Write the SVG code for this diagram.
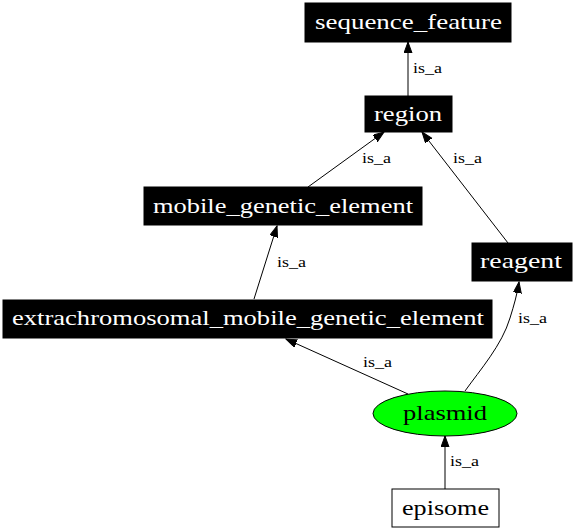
<svg xmlns="http://www.w3.org/2000/svg" width="576" height="531" viewBox="0 0 576 531">
<style>
.bg{fill:#ffffff}
.nb rect{fill:#000000;stroke:#000000;stroke-width:1}
.nt{font-family:'Liberation Serif','Times New Roman',Times,serif;font-size:22px;text-anchor:middle}
.w{fill:#ffffff}
.k{fill:#000000}
.e{fill:none;stroke:#000000;stroke-width:1;marker-end:url(#ah)}
.el{font-family:'Liberation Serif','Times New Roman',Times,serif;font-size:15px;fill:#000000}
</style>
<defs>
<marker id="ah" markerUnits="userSpaceOnUse" markerWidth="12" markerHeight="10" refX="11" refY="4" orient="auto">
<path d="M0,0 L11,4 L0,8 z" fill="#000000" stroke="#000000" stroke-width="1"/>
</marker>
</defs>
<rect class="bg" x="0" y="0" width="576" height="531"/>
<g id="connectors">
<path class="e" d="M408,96 L408,42"/>
<text class="el" x="413" y="73" textLength="29" lengthAdjust="spacingAndGlyphs">is_a</text>
<path class="e" d="M308,187 L384,132"/>
<text class="el" x="362" y="163" textLength="29" lengthAdjust="spacingAndGlyphs">is_a</text>
<path class="e" d="M508,243 L422,132"/>
<text class="el" x="453" y="163" textLength="29" lengthAdjust="spacingAndGlyphs">is_a</text>
<path class="e" d="M254,299 L277,226"/>
<text class="el" x="277" y="267" textLength="29" lengthAdjust="spacingAndGlyphs">is_a</text>
<path class="e" d="M408,394 L286,339"/>
<text class="el" x="363" y="367" textLength="29" lengthAdjust="spacingAndGlyphs">is_a</text>
<path class="e" d="M465,391 C480,370 502,345 510,318 C514,305 517,295 519,282"/>
<text class="el" x="518" y="323" textLength="29" lengthAdjust="spacingAndGlyphs">is_a</text>
<path class="e" d="M445,489 L445,436"/>
<text class="el" x="450" y="466" textLength="29" lengthAdjust="spacingAndGlyphs">is_a</text>
</g>
<g id="sequence_feature" class="nb">
<rect x="305" y="3" width="206" height="39"/>
<text class="nt w" x="408.5" y="28.5" textLength="187" lengthAdjust="spacingAndGlyphs">sequence_feature</text>
</g>
<g id="region" class="nb">
<rect x="365" y="96" width="87" height="36"/>
<text class="nt w" x="408" y="120.5" textLength="68" lengthAdjust="spacingAndGlyphs">region</text>
</g>
<g id="mobile_genetic_element" class="nb">
<rect x="144" y="187" width="278" height="38"/>
<text class="nt w" x="283" y="212.5" textLength="260" lengthAdjust="spacingAndGlyphs">mobile_genetic_element</text>
</g>
<g id="reagent" class="nb">
<rect x="472" y="243" width="100" height="38"/>
<text class="nt w" x="521" y="268" textLength="82" lengthAdjust="spacingAndGlyphs">reagent</text>
</g>
<g id="extrachromosomal_mobile_genetic_element" class="nb">
<rect x="3" y="300" width="489" height="38"/>
<text class="nt w" x="248" y="325" textLength="472" lengthAdjust="spacingAndGlyphs">extrachromosomal_mobile_genetic_element</text>
</g>
<g id="plasmid">
<ellipse cx="445" cy="413.5" rx="72" ry="22.5" fill="#00ff00" stroke="#000000" stroke-width="1"/>
<text class="nt k" x="445" y="419.5" textLength="84" lengthAdjust="spacingAndGlyphs">plasmid</text>
</g>
<g id="episome">
<rect x="392" y="489" width="107" height="38" fill="#ffffff" stroke="#000000" stroke-width="1"/>
<text class="nt k" x="445.5" y="514.5" textLength="87" lengthAdjust="spacingAndGlyphs">episome</text>
</g>
</svg>
